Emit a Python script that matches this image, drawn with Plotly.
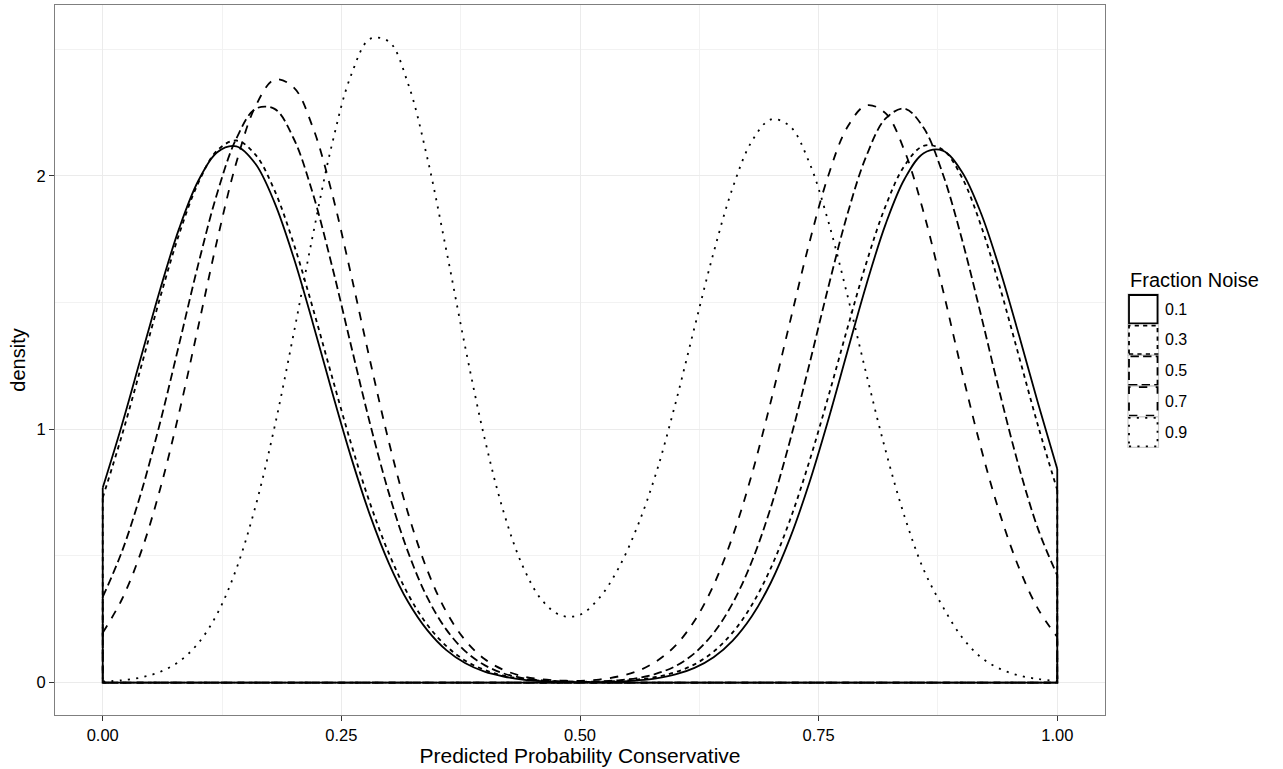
import plotly.graph_objects as go

# ---- data ----
x_grid = [0.0, 0.02, 0.04, 0.06, 0.08, 0.1, 0.12, 0.14, 0.16, 0.18,
          0.2, 0.22, 0.24, 0.26, 0.28, 0.3, 0.32, 0.34, 0.36, 0.38,
          0.4, 0.42, 0.44, 0.46, 0.48, 0.5, 0.52, 0.54, 0.56, 0.58,
          0.6, 0.62, 0.64, 0.66, 0.68, 0.7, 0.72, 0.74, 0.76, 0.78,
          0.8, 0.82, 0.84, 0.86, 0.88, 0.9, 0.92, 0.94, 0.96, 0.98, 1.0]

noise_01 = [0.769, 1.016, 1.283, 1.55, 1.792, 1.98, 2.094, 2.117, 2.048, 1.895,
            1.678, 1.421, 1.151, 0.892, 0.661, 0.469, 0.318, 0.207, 0.128, 0.076,
            0.043, 0.024, 0.012, 0.006, 0.003, 0.002, 0.002, 0.004, 0.009, 0.017,
            0.032, 0.058, 0.1, 0.166, 0.262, 0.395, 0.57, 0.786, 1.036, 1.305,
            1.571, 1.808, 1.988, 2.09, 2.1, 2.017, 1.854, 1.629, 1.37, 1.101, 0.843]
noise_03 = [0.73, 0.975, 1.244, 1.518, 1.77, 1.972, 2.101, 2.14, 2.084, 1.943,
            1.733, 1.48, 1.21, 0.946, 0.708, 0.508, 0.348, 0.228, 0.144, 0.086,
            0.05, 0.027, 0.015, 0.007, 0.004, 0.003, 0.003, 0.006, 0.012, 0.022,
            0.041, 0.072, 0.122, 0.198, 0.306, 0.453, 0.642, 0.87, 1.127, 1.397,
            1.657, 1.88, 2.041, 2.119, 2.104, 1.995, 1.805, 1.559, 1.286, 1.012, 0.76]
noise_05 = [0.338, 0.516, 0.747, 1.025, 1.335, 1.65, 1.933, 2.148, 2.265, 2.265,
            2.148, 1.932, 1.648, 1.333, 1.023, 0.745, 0.514, 0.336, 0.209, 0.123,
            0.069, 0.036, 0.018, 0.009, 0.005, 0.003, 0.005, 0.009, 0.018, 0.035,
            0.065, 0.116, 0.196, 0.314, 0.478, 0.693, 0.955, 1.252, 1.559, 1.847,
            2.079, 2.226, 2.266, 2.19, 2.009, 1.752, 1.452, 1.14, 0.85, 0.605, 0.423]
noise_07 = [0.197, 0.328, 0.514, 0.762, 1.065, 1.404, 1.748, 2.053, 2.275, 2.38,
            2.35, 2.193, 1.935, 1.613, 1.272, 0.947, 0.667, 0.444, 0.279, 0.166,
            0.093, 0.05, 0.025, 0.013, 0.008, 0.007, 0.012, 0.024, 0.045, 0.084,
            0.146, 0.244, 0.385, 0.578, 0.822, 1.111, 1.424, 1.732, 2.0, 2.192,
            2.279, 2.248, 2.099, 1.856, 1.553, 1.23, 0.927, 0.665, 0.452, 0.29, 0.18]
noise_09 = [0.004, 0.009, 0.02, 0.042, 0.083, 0.155, 0.272, 0.449, 0.695, 1.009,
            1.377, 1.764, 2.122, 2.396, 2.541, 2.53, 2.363, 2.072, 1.706, 1.32,
            0.965, 0.673, 0.46, 0.326, 0.265, 0.268, 0.333, 0.449, 0.615, 0.83,
            1.102, 1.403, 1.698, 1.954, 2.137, 2.223, 2.196, 2.055, 1.822, 1.531,
            1.218, 0.918, 0.656, 0.446, 0.3, 0.18, 0.1, 0.054, 0.028, 0.014, 0.006]

series_names = ["0.1", "0.3", "0.5", "0.7", "0.9"]
series_values = [noise_01, noise_03, noise_05, noise_07, noise_09]

x_tick_vals = [0, 0.25, 0.5, 0.75, 1.0]
x_tick_text = ["0.00", "0.25", "0.50", "0.75", "1.00"]
y_tick_vals = [0, 1, 2]
y_tick_text = ["0", "1", "2"]

# ---- styles (ggplot linetypes: solid, 22, 42, 44, 13) ----
dashes = ["solid", "4.2px,4.2px", "8.4px,4.2px", "8.4px,8.4px", "2.1px,6.3px"]
LW = 1.8

fig = go.Figure()
for name, vals, dash in zip(series_names, series_values, dashes):
    fig.add_trace(go.Scatter(x=x_grid, y=vals, mode="lines", name=name,
                             line=dict(color="black", width=LW, dash=dash, shape="spline", smoothing=1.0),
                             showlegend=False))
    # polygon outline edges: right vertical, baseline, left vertical
    fig.add_trace(go.Scatter(x=[x_grid[-1], x_grid[-1], x_grid[0], x_grid[0]],
                             y=[vals[-1], 0, 0, vals[0]], mode="lines",
                             line=dict(color="black", width=LW, dash=dash),
                             showlegend=False, hoverinfo="skip"))

W, H = 1283, 769
L, R, T, B = 55, 178, 5, 54
pw, ph = W - L - R, H - T - B

def px(xp):
    return (xp - L) / pw

def py(yp):
    return (H - B - yp) / ph

axis_common = dict(showgrid=True, gridcolor="#EBEBEB", gridwidth=1.2, zeroline=False,
                   showline=True, linecolor="#7F7F7F", linewidth=1.2, mirror=True,
                   ticks="outside", ticklen=5, tickcolor="#333333", tickwidth=1.2,
                   tickfont=dict(size=16.5, color="black"), automargin=False)

fig.update_layout(
    width=W, height=H, margin=dict(l=L, r=R, t=T, b=B, autoexpand=False),
    paper_bgcolor="white", plot_bgcolor="white",
    font=dict(family="Liberation Sans, Arial, sans-serif", color="black"),
    showlegend=False,
    xaxis=dict(range=[-0.05, 1.05], tickvals=x_tick_vals, ticktext=x_tick_text,
               title=dict(text="Predicted Probability Conservative", font=dict(size=21), standoff=1),
               minor=dict(tickvals=[0.125, 0.375, 0.625, 0.875], showgrid=True,
                          gridcolor="#F2F2F2", gridwidth=0.9, ticklen=0),
               **axis_common),
    yaxis=dict(range=[-0.128, 2.675], tickvals=y_tick_vals, ticktext=y_tick_text,
               title=dict(text="density", font=dict(size=20), standoff=5),
               minor=dict(tickvals=[0.5, 1.5, 2.5], showgrid=True,
                          gridcolor="#F2F2F2", gridwidth=0.9, ticklen=0),
               **axis_common),
)

# ---- legend drawn like ggplot's boxed keys ----
key_left, key_size, key_top0, key_pitch = 1128, 30.5, 294, 30.7
shapes = []
annotations = [dict(x=px(key_left), y=py(280), xref="paper", yref="paper", text="Fraction Noise",
                    showarrow=False, xanchor="left", yanchor="middle",
                    font=dict(size=20, color="black"))]
for i, (name, dash) in enumerate(zip(series_names, dashes)):
    top = key_top0 + i * key_pitch
    shapes.append(dict(type="rect", xref="paper", yref="paper",
                       x0=px(key_left), x1=px(key_left + key_size),
                       y0=py(top + key_size), y1=py(top),
                       line=dict(color="#CCCCCC", width=1.2), fillcolor="white", layer="above"))
    shapes.append(dict(type="rect", xref="paper", yref="paper",
                       x0=px(key_left + 1), x1=px(key_left + key_size - 1),
                       y0=py(top + key_size - 1), y1=py(top + 1),
                       line=dict(color="black", width=LW, dash=dash), layer="above"))
    annotations.append(dict(x=px(key_left + key_size + 4), y=py(top + key_size / 2),
                            xref="paper", yref="paper", text=name, showarrow=False,
                            xanchor="left", yanchor="middle", font=dict(size=16, color="black")))
fig.update_layout(shapes=shapes, annotations=annotations)

fig.write_html("out.html",
               config={"displayModeBar": False},
               post_script="document.body.style.margin='0';document.body.style.padding='0';")
